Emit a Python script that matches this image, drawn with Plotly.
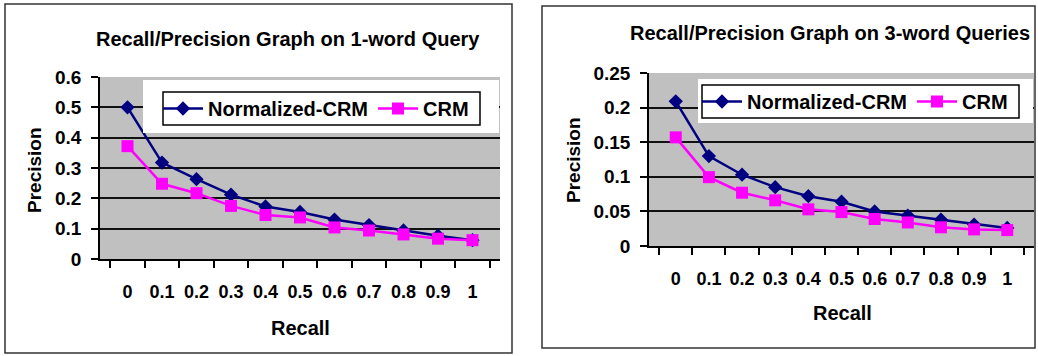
import plotly.graph_objects as go

recall = ["0", "0.1", "0.2", "0.3", "0.4", "0.5", "0.6", "0.7", "0.8", "0.9", "1"]

norm_1word = [0.50, 0.318, 0.263, 0.212, 0.173, 0.155, 0.13, 0.112, 0.094, 0.077, 0.062]
crm_1word = [0.372, 0.248, 0.217, 0.175, 0.145, 0.137, 0.104, 0.094, 0.081, 0.067, 0.062]

norm_3word = [0.209, 0.130, 0.103, 0.085, 0.072, 0.064, 0.050, 0.044, 0.038, 0.031, 0.026]
crm_3word = [0.157, 0.0995, 0.077, 0.066, 0.053, 0.049, 0.039, 0.034, 0.027, 0.024, 0.023]

title_left = "Recall/Precision Graph on 1-word Query"
title_right = "Recall/Precision Graph on 3-word Queries"

W, H = 1038, 356
FONT = "Arial, 'Liberation Sans', sans-serif"
NAVY = "#000080"
MAGENTA = "#FF00FF"


def px(x):
    return x / W


def py(y):
    return 1 - y / H


fig = go.Figure()

for (nv, cv, xa, ya, leg) in [
    (norm_1word, crm_1word, "x", "y", "legend"),
    (norm_3word, crm_3word, "x2", "y2", "legend2"),
]:
    fig.add_trace(go.Scatter(
        x=recall, y=nv, name="Normalized-CRM", mode="lines+markers",
        line=dict(color=NAVY, width=2.5),
        marker=dict(symbol="diamond", size=11, color=NAVY),
        xaxis=xa, yaxis=ya, legend=leg))
    fig.add_trace(go.Scatter(
        x=recall, y=cv, name="CRM", mode="lines+markers",
        line=dict(color=MAGENTA, width=2.5),
        marker=dict(symbol="square", size=12, color=MAGENTA),
        xaxis=xa, yaxis=ya, legend=leg))

xtickfont = dict(family=FONT, size=18, color="black", weight="bold")
ytickfont = dict(family=FONT, size=19, color="black", weight="bold")

xcommon = dict(
    type="category", tickson="boundaries", ticks="outside", ticklen=7,
    tickwidth=1.5, tickcolor="black", showline=True, linecolor="black",
    linewidth=1.5, showgrid=False, tickfont=xtickfont, tickangle=0,
    ticklabelstandoff=16, automargin=False, fixedrange=True,
)
ycommon = dict(
    ticks="outside", ticklen=7, tickwidth=1.5, tickcolor="black",
    showline=True, linecolor="black", linewidth=1.5, showgrid=True,
    gridcolor="#111111", gridwidth=1.5, zeroline=False, tickfont=ytickfont,
    ticklabelstandoff=6, automargin=False, fixedrange=True,
)

legfont = dict(family=FONT, size=20, color="black", weight="bold")

fig.update_layout(
    width=W, height=H,
    margin=dict(l=0, r=0, t=0, b=0),
    paper_bgcolor="white",
    plot_bgcolor="#C0C0C0",
    xaxis=dict(domain=[px(100), px(500)], anchor="y", **xcommon),
    yaxis=dict(domain=[py(259), py(77)], anchor="x", range=[0, 0.6],
               dtick=0.1, **ycommon),
    xaxis2=dict(domain=[px(649), px(1034)], anchor="y2", **xcommon),
    yaxis2=dict(domain=[py(246), py(73)], anchor="x2", range=[0, 0.25],
                dtick=0.05, **ycommon),
    legend=dict(
        orientation="h", x=px(158), y=py(108.5), xanchor="left",
        yanchor="middle", bgcolor="rgba(0,0,0,0)", borderwidth=0,
        font=legfont, itemwidth=40,
    ),
    legend2=dict(
        orientation="h", x=px(697), y=py(101.5), xanchor="left",
        yanchor="middle", bgcolor="rgba(0,0,0,0)", borderwidth=0,
        font=legfont, itemwidth=40,
    ),
    showlegend=True,
)

# white legend areas, legend borders and chart frames
fig.add_shape(type="rect", xref="paper", yref="paper",
              x0=px(143), x1=px(499), y0=py(133), y1=py(80),
              fillcolor="white", line=dict(width=0), layer="above")
fig.add_shape(type="rect", xref="paper", yref="paper",
              x0=px(698), x1=px(1033), y0=py(123), y1=py(79),
              fillcolor="white", line=dict(width=0), layer="above")
fig.add_shape(type="rect", xref="paper", yref="paper",
              x0=px(163), x1=px(480), y0=py(125), y1=py(92),
              line=dict(color="black", width=1.5), layer="above")
fig.add_shape(type="rect", xref="paper", yref="paper",
              x0=px(702), x1=px(1019), y0=py(118), y1=py(85),
              line=dict(color="black", width=1.5), layer="above")
fig.add_shape(type="rect", xref="paper", yref="paper",
              x0=px(5), x1=px(512), y0=py(353), y1=py(4),
              line=dict(color="#333333", width=1.5))
fig.add_shape(type="rect", xref="paper", yref="paper",
              x0=px(542), x1=px(1035), y0=py(348), y1=py(6),
              line=dict(color="#333333", width=1.5))

tfont = dict(family=FONT, size=20, color="black", weight="bold")
pfont = dict(family=FONT, size=19, color="black", weight="bold")
annos = [
    dict(text=title_left, x=px(288), y=py(39), font=tfont),
    dict(text=title_right, x=px(830), y=py(33), font=tfont),
    dict(text="Recall", x=px(300), y=py(328), font=tfont),
    dict(text="Recall", x=px(842), y=py(313), font=tfont),
    dict(text="Precision", x=px(35), y=py(170), textangle=-90, font=pfont),
    dict(text="Precision", x=px(573), y=py(160), textangle=-90, font=pfont),
]
for a in annos:
    fig.add_annotation(xref="paper", yref="paper", showarrow=False,
                       xanchor="center", yanchor="middle", **a)

fig.write_html("out.html")
